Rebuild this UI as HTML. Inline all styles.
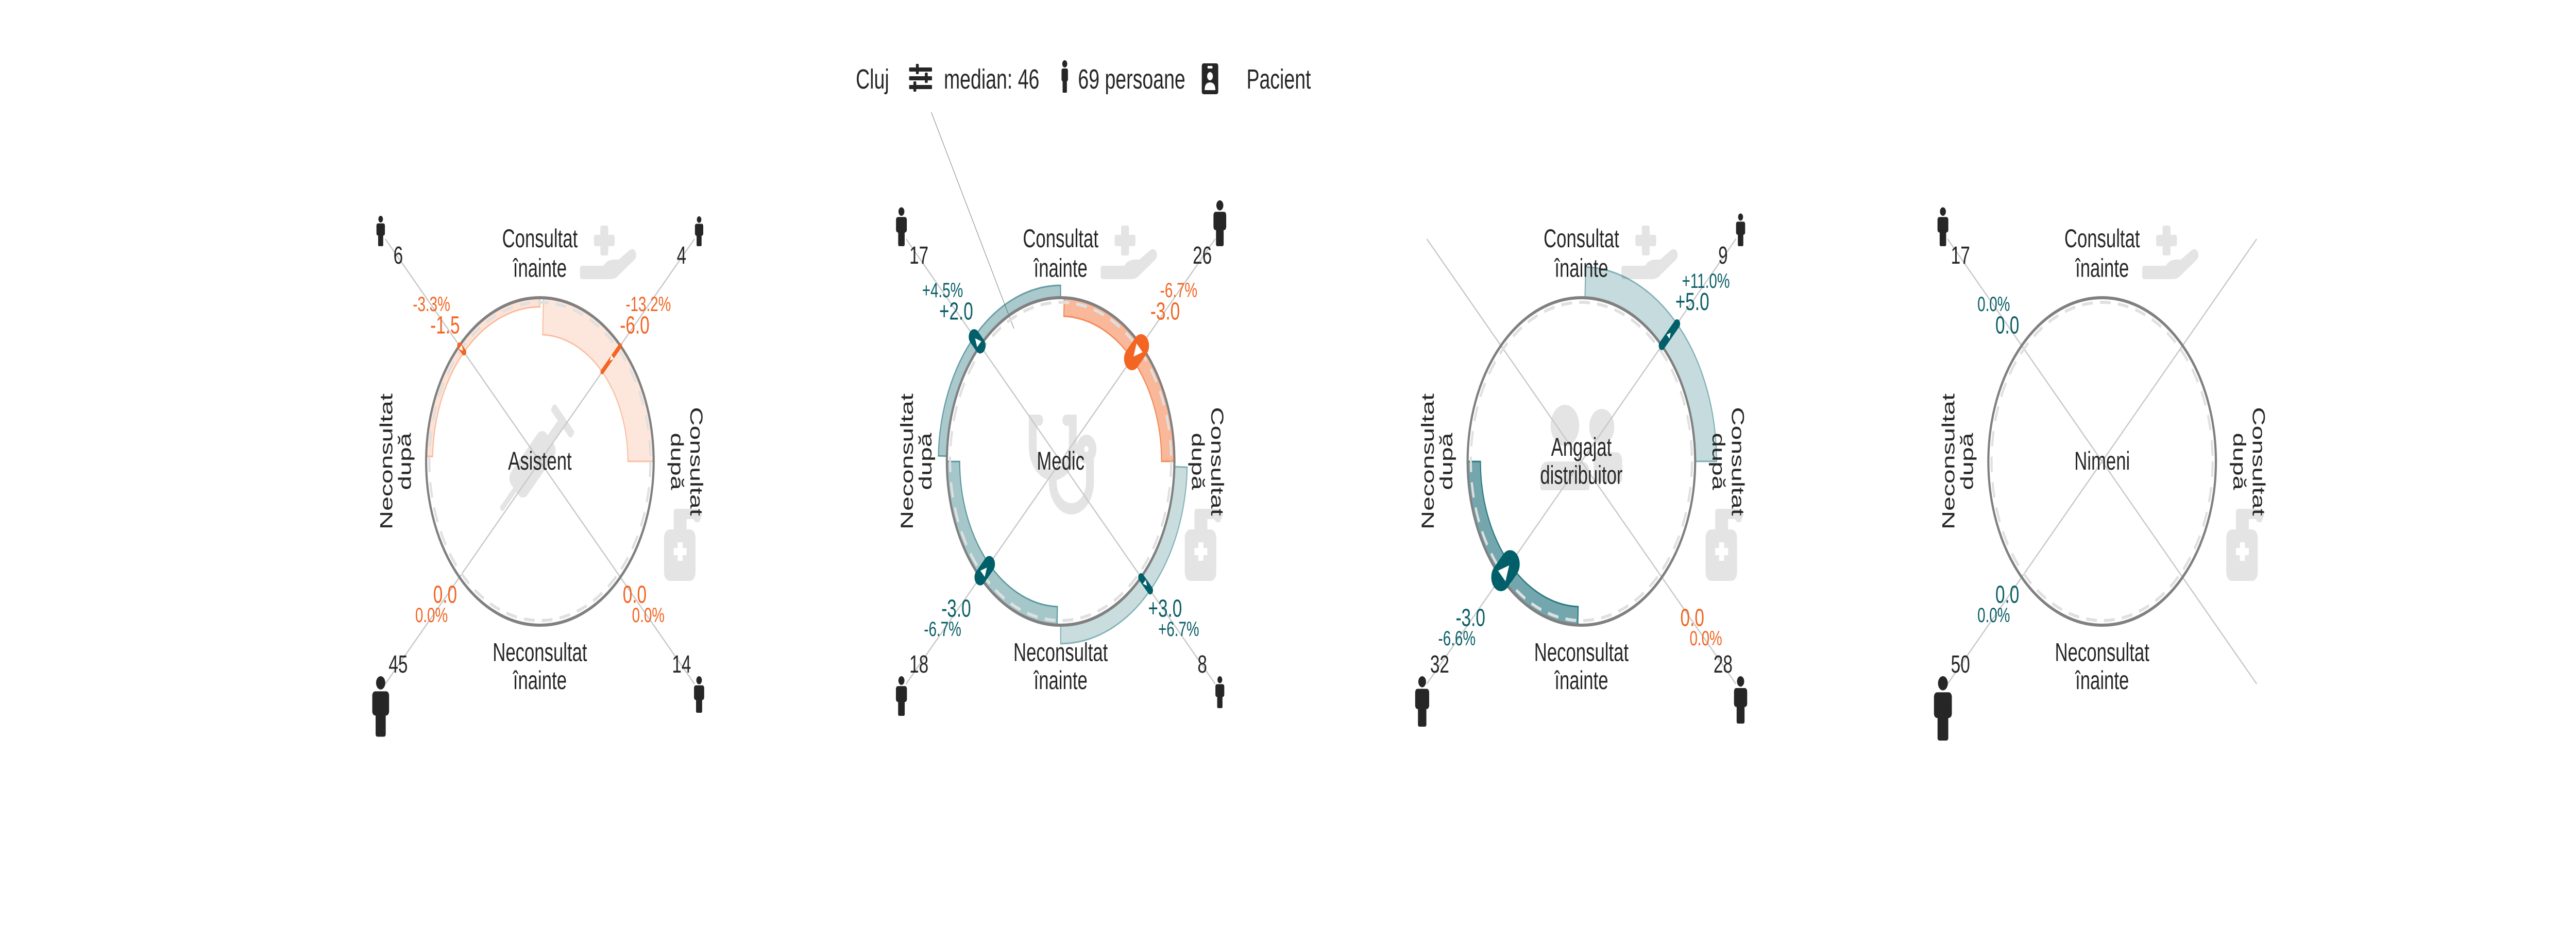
<!DOCTYPE html>
<html><head><meta charset="utf-8"><style>
html,body{margin:0;padding:0;background:#fff;width:100%;height:100%;overflow:hidden;}
svg{display:block;position:absolute;left:0;top:0;width:100vw;height:100vh;font-family:"Liberation Sans",Arial,sans-serif;}
</style></head><body>
<svg id="chart" viewBox="0 0 7200 1800" preserveAspectRatio="none" xmlns="http://www.w3.org/2000/svg">
<rect x="0" y="0" width="7200" height="1800" fill="#fff"/>
<g id="header" fill="#262626" font-size="54">
  <text x="2392" y="172">Cluj</text>
  <g>
    <rect x="2541" y="131" width="64" height="8" rx="2"/>
    <rect x="2541" y="148" width="64" height="8" rx="2"/>
    <rect x="2541" y="165" width="64" height="8" rx="2"/>
    <rect x="2560" y="124" width="8" height="20" rx="2"/>
    <rect x="2585" y="141" width="8" height="20" rx="2"/>
    <rect x="2553" y="158" width="8" height="20" rx="2"/>
  </g>
  <text x="2638" y="172">median: 46</text>
  <g>
    <circle cx="2976" cy="124" r="7"/>
    <rect x="2967" y="133" width="18" height="25" rx="4"/>
    <rect x="2970" y="150" width="12" height="30" rx="2"/>
  </g>
  <text x="3013" y="172">69 persoane</text>
  <g>
    <rect x="3359" y="123" width="46" height="60" rx="5"/>
    <rect x="3375" y="128" width="14" height="5" rx="2" fill="#fff"/>
    <circle cx="3382" cy="148" r="8" fill="#fff"/>
    <path d="M3367,175 Q3367,160 3382,160 Q3397,160 3397,175 Z" fill="#fff"/>
  </g>
  <text x="3484" y="172">Pacient</text>
</g>
<line x1="2603" y1="218" x2="2834" y2="638" stroke="#8a8a8a" stroke-width="1.5"/>
<g id="panels"></g>
</svg>
<script>
const panelNames = [["Asistent"], ["Medic"], ["Angajat", "distribuitor"], ["Nimeni"]];
const quadrantKeys = ["TL", "TR", "BR", "BL"];
const counts = [[6, 4, 14, 45], [17, 26, 8, 18], [0, 9, 28, 32], [17, 0, 0, 50]];
const values = [[-1.5, -6.0, 0.0, 0.0], [2.0, -3.0, 3.0, -3.0], [null, 5.0, 0.0, -3.0], [0.0, null, null, 0.0]];
const pcts = [[-3.3, -13.2, 0.0, 0.0], [4.5, -6.7, 6.7, -6.7], [null, 11.0, 0.0, -6.6], [0.0, null, null, 0.0]];
const colorKeys = [["o", "o", "o", "o"], ["t", "o", "t", "t"], [null, "t", "o", "t"], ["t", null, null, "t"]];
const centerIcons = ["syringe", "stethoscope", "people", null];

const NS = "http://www.w3.org/2000/svg";
const R = 318, K = 12, CY = 896;
const COL = {o: [242, 101, 34], t: [0, 95, 105]};
const TXT = {o: "#f26522", t: "#0a5e66"};
const DIRS = {TL: [-1, -1], TR: [1, -1], BR: [1, 1], BL: [-1, 1]};
const ARC = {TR: [-90, 0], BR: [0, 90], BL: [90, 180], TL: [180, 270]};
const root = document.getElementById("panels");

function mk(tag, attrs, parent) {
  const e = document.createElementNS(NS, tag);
  for (const k in attrs) e.setAttribute(k, attrs[k]);
  (parent || root).appendChild(e);
  return e;
}
function fmt(v, suf) {
  const s = Math.abs(v).toFixed(1) + (suf || "");
  return v > 0 ? "+" + s : (v < 0 ? "-" + s : s);
}
function rgba(c, a) { return "rgba(" + c[0] + "," + c[1] + "," + c[2] + "," + a + ")"; }
function pol(cx, cy, r, a) { const t = a * Math.PI / 180; return [cx + r * Math.cos(t), cy + r * Math.sin(t)]; }
function sector(cx, cy, r1, r2, a0, a1) {
  const p1 = pol(cx, cy, r1, a0), p2 = pol(cx, cy, r1, a1), p3 = pol(cx, cy, r2, a1), p4 = pol(cx, cy, r2, a0);
  return "M" + p1 + " A" + r1 + "," + r1 + " 0 0 1 " + p2 + " L" + p3 + " A" + r2 + "," + r2 + " 0 0 0 " + p4 + " Z";
}
function person(g, cx, y0, h) {
  const f = "#262626";
  mk("circle", {cx: cx, cy: y0 + h * 0.11, r: h * 0.11, fill: f}, g);
  mk("rect", {x: cx - h * 0.2, y: y0 + h * 0.25, width: h * 0.4, height: h * 0.4, rx: h * 0.07, fill: f}, g);
  mk("rect", {x: cx - h * 0.12, y: y0 + h * 0.55, width: h * 0.24, height: h * 0.45, rx: h * 0.04, fill: f}, g);
}

for (let p = 0; p < panelNames.length; p++) {
  const cx = 1509 + p * 1455.5;
  const g = mk("g", {});
  
  
  const gray = "#e4e4e4";
  const bg = mk("g", {fill: gray}, g);
  
  
  mk("rect", {x: cx + 169, y: CY - 458, width: 22, height: 58, rx: 4}, bg);
  mk("rect", {x: cx + 151, y: CY - 440, width: 58, height: 22, rx: 4}, bg);
  mk("path", {d: "M" + (cx + 118) + "," + (CY - 380) + " h60 q10,-12 30,-12 h12 l30,-18 q12,-6 18,4 q4,10 -6,16 l-44,30 q-8,6 -20,6 h-80 q-6,0 -6,-6 v-14 q0,-6 6,-6 Z"}, bg);
  mk("rect", {x: cx + 347, y: CY + 132, width: 88, height: 100, rx: 16}, bg);
  mk("rect", {x: cx + 374, y: CY + 92, width: 36, height: 46, rx: 6}, bg);
  mk("path", {d: "M" + (cx + 405) + "," + (CY + 92) + " h30 q16,0 18,12 l-8,14 h-10 l-6,-6 h-24 Z"}, bg);
  mk("rect", {x: cx + 385, y: CY + 157, width: 14, height: 36, fill: "#fff"}, bg);
  mk("rect", {x: cx + 374, y: CY + 168, width: 36, height: 14, fill: "#fff"}, bg);
  const ci = centerIcons[p];
  if (ci === "syringe") {
    const s = mk("g", {transform: "translate(" + (cx - 10) + "," + (CY - 5) + ") rotate(-45)", fill: gray}, g);
    
    
    mk("rect", {x: -85, y: -32, width: 140, height: 64, rx: 18}, s);
    mk("rect", {x: 50, y: -10, width: 50, height: 20}, s);
    mk("rect", {x: 95, y: -40, width: 18, height: 80, rx: 6}, s);
    mk("rect", {x: -140, y: -6, width: 60, height: 12, rx: 4}, s);
  } else if (ci === "stethoscope") {
    const s = mk("g", {fill: "none", stroke: gray, "stroke-width": 22, "stroke-linecap": "round"}, g);
    
    
    mk("path", {d: "M" + (cx - 60) + "," + (CY - 80) + " h-18 v50 a56,56 0 0 0 112,0 v-50 h-18"}, s);
    mk("path", {d: "M" + (cx - 22) + "," + (CY + 26) + " v14 a52,52 0 0 0 104,0 v-48"}, s);
    mk("circle", {cx: cx + 72, cy: CY - 24, r: 17}, s);
  } else if (ci === "people") {
    const s = mk("g", {fill: gray}, g);
    
    
    mk("circle", {cx: cx - 46, cy: CY - 70, r: 40}, s);
    mk("path", {d: "M" + (cx - 115) + "," + (CY + 50) + " v-26 q0,-24 24,-24 h90 q24,0 24,24 v26 q0,6 -6,6 h-126 q-6,0 -6,-6 Z"}, s);
    mk("circle", {cx: cx + 57, cy: CY - 67, r: 35}, s);
    mk("path", {d: "M" + (cx + 34) + "," + (CY - 18) + " h62 q18,0 18,18 v34 q0,6 -6,6 h-74 Z"}, s);
  }
  for (const q of quadrantKeys) {
    const d = DIRS[q];
    const l = mk("line", {x1: cx, y1: CY, x2: cx + d[0] * 432, y2: CY + d[1] * 432, stroke: "#c8c8c8", "stroke-width": 3}, g);
    
    
  }
  let maxPos = 0;
  for (let i = 0; i < 4; i++) { const v = values[p][i]; if (v !== null && v > maxPos) maxPos = v; }
  for (let i = 0; i < 4; i++) {
    const q = quadrantKeys[i], v = values[p][i], c = counts[p][i];
    if (v === null || v === 0) continue;
    const col = COL[colorKeys[p][i]], a = 0.1 + c * 0.014;
    const ar = ARC[q];
    const band = mk("path", {d: sector(cx, CY, R, R + v * K, ar[0] + 1.8, ar[1]), fill: rgba(col, a), stroke: rgba(col, Math.min(1, a + 0.2)), "stroke-width": 3}, g);
    
    
  }
  const dc = mk("circle", {cx: cx, cy: CY, r: R - 9, fill: "none", stroke: "#e0e0e0", "stroke-width": 6, "stroke-dasharray": "30 20"}, g);
  
  
  const mc = mk("circle", {cx: cx, cy: CY, r: R, fill: "none", stroke: "#808080", "stroke-width": 6}, g);
  
  
  const dl = 265 + maxPos * 9;
  for (let i = 0; i < 4; i++) {
    const q = quadrantKeys[i], v = values[p][i], c = counts[p][i], d = DIRS[q];
    const u = [d[0] / Math.SQRT2, d[1] / Math.SQRT2];
    const top = d[1] < 0;
    if (v !== null && v !== 0) {
      const col = COL[colorKeys[p][i]];
      const w = 3 + 1.6 * c;
      const r1 = R + v * K;
      const p0 = [cx + u[0] * R, CY + u[1] * R], p1 = [cx + u[0] * r1, CY + u[1] * r1];
      const m = mk("line", {x1: p0[0], y1: p0[1], x2: p1[0], y2: p1[1], stroke: rgba(col, 1), "stroke-width": w, "stroke-linecap": "round"}, g);
      
      
      const sg = v > 0 ? 1 : -1, s = Math.max(9, w * 0.45);
      const mx = (p0[0] + p1[0]) / 2, my = (p0[1] + p1[1]) / 2;
      const tx = mx + u[0] * sg * s * 0.6, ty = my + u[1] * sg * s * 0.6;
      const bx = mx - u[0] * sg * s * 0.6, by = my - u[1] * sg * s * 0.6;
      const nx = -u[1] * s * 0.6, ny = u[0] * s * 0.6;
      const tri = mk("path", {d: "M" + tx + "," + ty + " L" + (bx + nx) + "," + (by + ny) + " L" + (bx - nx) + "," + (by - ny) + " Z", fill: "#fff"}, g);
      
      
    }
    if (v !== null) {
      const tc = TXT[colorKeys[p][i]];
      const vy = top ? -dl : dl - 7, py = top ? -(dl + 40) : dl + 34;
      const vt = mk("text", {x: cx + d[0] * dl, y: CY + vy, "font-size": 48, fill: tc, "text-anchor": "middle", "dominant-baseline": "central"}, g);
      vt.textContent = fmt(v);
      
      
      const pt = mk("text", {x: cx + d[0] * (dl + 38), y: CY + py, "font-size": 40, fill: tc, "text-anchor": "middle", "dominant-baseline": "central"}, g);
      pt.textContent = fmt(pcts[p][i], "%");
      
      
    }
    if (c > 0) {
      const ct = mk("text", {x: cx + d[0] * 396, y: CY + (top ? -400 : 394), "font-size": 48, fill: "#262626", "text-anchor": "middle", "dominant-baseline": "central"}, g);
      ct.textContent = String(c);
      
      
      const h = Math.max(58, 50 + 1.5 * c);
      const pg = mk("g", {}, g);
      
      
      person(pg, cx + d[0] * 445, top ? CY - 418 - h : CY + 417, h);
    }
  }
  const tl = mk("text", {x: cx, "font-size": 50, fill: "#262626", "text-anchor": "middle", "dominant-baseline": "central"}, g);
  
  
  mk("tspan", {x: cx, y: CY - 432}, tl).textContent = "Consultat";
  mk("tspan", {x: cx, y: CY - 375}, tl).textContent = "înainte";
  const bl = mk("text", {x: cx, "font-size": 50, fill: "#262626", "text-anchor": "middle", "dominant-baseline": "central"}, g);
  
  
  mk("tspan", {x: cx, y: CY + 371}, bl).textContent = "Neconsultat";
  mk("tspan", {x: cx, y: CY + 426}, bl).textContent = "înainte";
  const lg = mk("g", {transform: "translate(" + (cx - 403) + "," + CY + ") rotate(-90)"}, g);
  const ll = mk("text", {"font-size": 50, fill: "#262626", "text-anchor": "middle", "dominant-baseline": "central"}, lg);
  
  
  mk("tspan", {x: 0, y: -26}, ll).textContent = "Neconsultat";
  mk("tspan", {x: 0, y: 26}, ll).textContent = "după";
  const rg = mk("g", {transform: "translate(" + (cx + 410) + "," + CY + ") rotate(90)"}, g);
  const rl = mk("text", {"font-size": 50, fill: "#262626", "text-anchor": "middle", "dominant-baseline": "central"}, rg);
  
  
  mk("tspan", {x: 0, y: -27}, rl).textContent = "Consultat";
  mk("tspan", {x: 0, y: 27}, rl).textContent = "după";
  const nm = panelNames[p];
  const tt = mk("text", {"font-size": 50, fill: "#262626", "text-anchor": "middle", "dominant-baseline": "central"}, g);
  
  
  for (let k = 0; k < nm.length; k++) {
    mk("tspan", {x: cx, y: CY + (k - (nm.length - 1) / 2) * 55}, tt).textContent = nm[k];
  }
}
</script>
</body></html>
